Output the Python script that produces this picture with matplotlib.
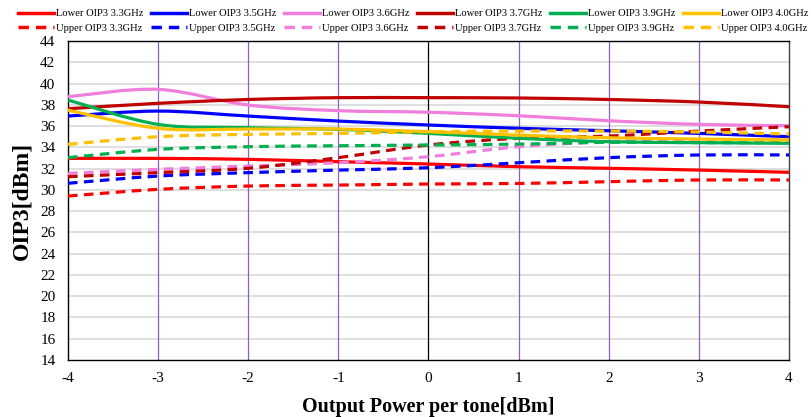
import matplotlib.pyplot as plt
import numpy as np
from matplotlib.path import Path
from matplotlib.patches import PathPatch
from matplotlib.lines import Line2D

plt.rcParams['font.family'] = ['Liberation Serif', 'DejaVu Serif']
plt.rcParams['axes.unicode_minus'] = False

power = [-4, -3, -2, -1, 0, 1, 2, 3, 4]

lower_33 = [32.96, 32.96, 32.87, 32.65, 32.43, 32.18, 32.03, 31.86, 31.65]
upper_33 = [29.42, 30.05, 30.36, 30.45, 30.55, 30.60, 30.77, 30.93, 30.93]
lower_35 = [36.94, 37.41, 36.94, 36.47, 36.10, 35.79, 35.56, 35.31, 35.00]
upper_35 = [30.62, 31.30, 31.62, 31.86, 32.08, 32.55, 33.03, 33.28, 33.28]
lower_36 = [38.76, 39.45, 37.98, 37.45, 37.30, 36.97, 36.50, 36.16, 36.03]
upper_36 = [31.55, 31.93, 32.24, 32.55, 33.12, 34.06, 34.53, 34.69, 34.75]
lower_37 = [37.63, 38.14, 38.50, 38.67, 38.67, 38.64, 38.50, 38.26, 37.82]
upper_37 = [31.24, 31.62, 32.03, 33.03, 34.22, 34.85, 35.06, 35.53, 35.94]
lower_39 = [38.45, 36.16, 35.85, 35.69, 35.31, 34.85, 34.53, 34.44, 34.38]
upper_39 = [33.03, 33.81, 34.06, 34.15, 34.22, 34.30, 34.47, 34.44, 34.44]
lower_40 = [37.50, 35.79, 35.72, 35.72, 35.47, 35.15, 34.90, 34.78, 34.69]
upper_40 = [34.28, 35.00, 35.22, 35.31, 35.47, 35.53, 35.53, 35.44, 35.25]

series = [
    ("Lower OIP3 3.3GHz", lower_33, '#FF0000', '-'),
    ("Upper OIP3 3.3GHz", upper_33, '#FF0000', '--'),
    ("Lower OIP3 3.5GHz", lower_35, '#0000FF', '-'),
    ("Upper OIP3 3.5GHz", upper_35, '#0000FF', '--'),
    ("Lower OIP3 3.6GHz", lower_36, '#F07EDC', '-'),
    ("Upper OIP3 3.6GHz", upper_36, '#F07EDC', '--'),
    ("Lower OIP3 3.7GHz", lower_37, '#C00000', '-'),
    ("Upper OIP3 3.7GHz", upper_37, '#C00000', '--'),
    ("Lower OIP3 3.9GHz", lower_39, '#00B050', '-'),
    ("Upper OIP3 3.9GHz", upper_39, '#00B050', '--'),
    ("Lower OIP3 4.0GHz", lower_40, '#FFC000', '-'),
    ("Upper OIP3 4.0GHz", upper_40, '#FFC000', '--'),
]


def smooth_path(x, y):
    # Excel-like smoothed line: Catmull-Rom segments as cubic Bezier curves
    x = np.asarray(x, float)
    y = np.asarray(y, float)
    n = len(x)
    verts = [(x[0], y[0])]
    codes = [Path.MOVETO]
    for i in range(n - 1):
        p0 = i - 1 if i > 0 else i
        p3 = i + 2 if i + 2 < n else i + 1
        c1 = (x[i] + (x[i + 1] - x[p0]) / 6, y[i] + (y[i + 1] - y[p0]) / 6)
        c2 = (x[i + 1] - (x[p3] - x[i]) / 6, y[i + 1] - (y[p3] - y[i]) / 6)
        verts += [c1, c2, (x[i + 1], y[i + 1])]
        codes += [Path.CURVE4] * 3
    return Path(verts, codes)


fig = plt.figure(figsize=(8.12, 4.17), dpi=100)
ax = fig.add_axes([68 / 812, 1 - 360 / 417, (789 - 68) / 812, (360 - 41) / 417])

dashes = (3, 2)
handles = []
for label, vals, color, ls in series:
    patch = PathPatch(smooth_path(power, vals), facecolor='none', edgecolor=color,
                      linewidth=2.3, capstyle='butt', zorder=3)
    if ls == '--':
        patch.set_linestyle((0, dashes))
    ax.add_patch(patch)
    h = Line2D([], [], color=color, linewidth=2.5)
    if ls == '--':
        h.set_dashes(dashes)
    handles.append(h)

ax.set_xlim(-4, 4)
ax.set_ylim(14, 44)
ax.set_xticks(power)
ax.set_yticks(np.arange(14, 45, 2))
ax.tick_params(length=0, labelsize=11, pad=9)

for yv in np.arange(16, 45, 2):
    ax.axhline(yv, color='#D9D9D9', linewidth=1.2, zorder=1)
for xv in power[1:-1]:
    ax.axvline(xv, color='black' if xv == 0 else '#8F5FC8', linewidth=0.9, zorder=2)

for s in ax.spines.values():
    s.set_color('black')
    s.set_linewidth(1.0)
ax.spines['right'].set_color('#404040')

ax.set_xlabel('Output Power per tone[dBm]', fontsize=14.5, fontweight='bold', labelpad=8)
ax.set_ylabel('OIP3[dBm]', fontsize=17, fontweight='bold', labelpad=6)

fig.legend(handles=handles, labels=[s[0] for s in series], ncol=6,
           loc='upper left', bbox_to_anchor=(18 / 812, 1 - 9 / 417), frameon=False,
           fontsize=7.6, handlelength=3.4, handletextpad=0.2, columnspacing=0.72,
           labelspacing=0.5, borderaxespad=0, borderpad=0)

fig.savefig('out.png', dpi=100)
